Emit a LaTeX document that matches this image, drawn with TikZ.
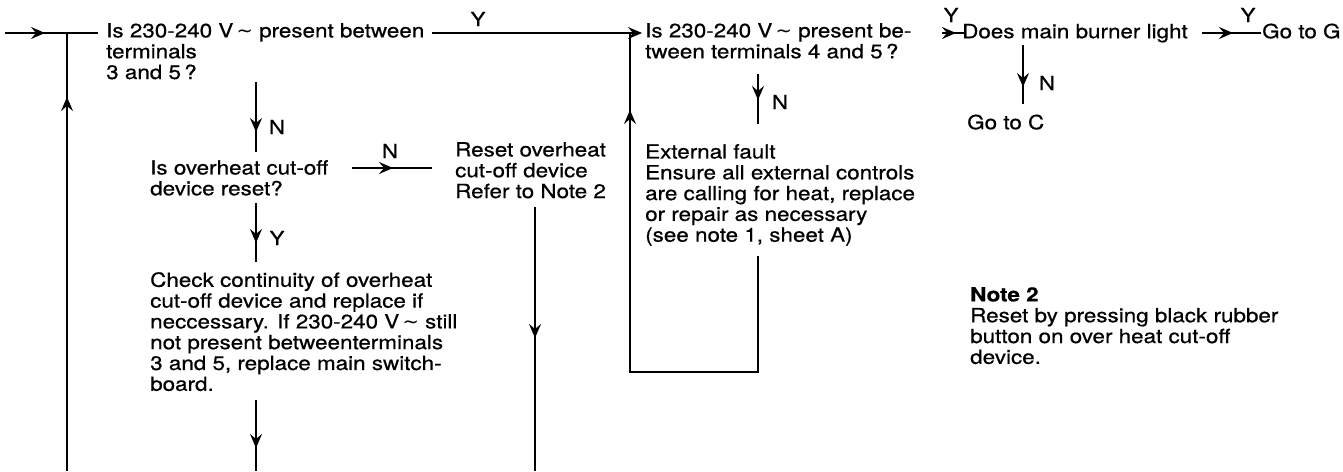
\documentclass[tikz,border=0pt]{standalone}
\usepackage{fontspec}
\setmainfont[FakeStretch=1.15,FakeBold=0.6]{TeX Gyre Heros}
\newfontfamily\symf{DejaVu Sans}
\usetikzlibrary{arrows.meta,decorations.markings}
\newcommand{\tld}{{\symf\char"223C}}
\tikzset{
  txt/.style={anchor=north west, inner sep=0pt, align=left,
    font=\fontsize{19.5}{20.8}\selectfont,
    execute at begin node={\rule{0pt}{15pt}}},
  lab/.style={inner sep=0pt, font=\fontsize{19.5}{20.8}\selectfont},
  wire/.style={line width=1.7pt},
  marr/.style={postaction={decorate},
    decoration={markings, mark=at position #1 with {\arrow{>}}}},
}
\begin{document}
\begin{tikzpicture}[x=1pt,y=-1pt,
  >={Stealth[length=14pt,width=12pt,inset=5pt]}]
\fill[white] (0,0) rectangle (1343,471);
\useasboundingbox (0,0) rectangle (1343,471);

% text blocks
\node[txt] (q1) at (106,23) {Is 230-240 V\,\tld\ present between\\terminals\\3 and 5\,?};
\node[txt] (q2) at (645,23) {Is 230-240 V\,\tld\ present be-\\tween terminals 4 and 5\,?};
\node[txt] (q3) at (962,23) {Does main burner light};
\node[txt] (gog) at (1262,23) {Go to G};
\node[txt] (goc) at (967,114) {Go to C};
\node[txt] (q4) at (150,160) {Is overheat cut-off\\device reset?};
\node[txt] (reset) at (455,142) {Reset overheat\\cut-off device\\Refer to Note 2};
\node[txt] (ext) at (645,144) {External fault\\Ensure all external controls\\are calling for heat, replace\\or repair as necessary\\(see note 1, sheet A)};
\node[txt] (chk) at (150,272) {Check continuity of overheat\\cut-off device and replace if\\neccessary. If 230-240 V\,\tld\ still\\not present betweenterminals\\3 and 5, replace main switch-\\board.};
\node[txt] (note) at (970,287) {\textbf{Note 2}\\Reset by pressing black rubber\\button on over heat cut-off\\device.};

% labels
\node[lab] (ly1) at (478,19) {Y};
\node[lab] (ln2) at (780,102) {N};
\node[lab] (ly3) at (951,15) {Y};
\node[lab] (ly4) at (1248,15) {Y};
\node[lab] (ln3) at (1047,83) {N};
\node[lab] (ln1) at (277,127) {N};
\node[lab] (ln4) at (390,151) {N};
\node[lab] (ly5) at (277,238) {Y};

% coordinates
\coordinate (in) at (5,33);
\coordinate (j1) at (67,33);
\coordinate (q1w) at (98,33);
\coordinate (bot1) at (67,471);
\coordinate (q1e) at (432,33);
\coordinate (j2) at (630,33);
\coordinate (q2w) at (642,33);
\coordinate (extb) at (758,256);
\coordinate (c1) at (758,372);
\coordinate (c2) at (630,372);
\coordinate (q2s) at (758,74);
\coordinate (extt) at (758,124);
\coordinate (q2e) at (942,33);
\coordinate (q3w) at (964,33);
\coordinate (q3e) at (1202,33);
\coordinate (gogw) at (1261,33);
\coordinate (q3s) at (1023,45);
\coordinate (goct) at (1023,104);
\coordinate (q1s) at (256,82);
\coordinate (q4t) at (256,152);
\coordinate (q4e) at (352,168);
\coordinate (resw) at (432,168);
\coordinate (q4s) at (256,203);
\coordinate (chkt) at (256,262);
\coordinate (chks) at (256,400);
\coordinate (bot2) at (256,471);
\coordinate (ress) at (535,207);
\coordinate (bot3) at (535,471);

% connectors
\draw[wire,marr=40pt] (in) -- (q1w);
\draw[wire,marr=374pt] (bot1) -- (j1);
\draw[wire,->] (q1e) -- (q2w);
\draw[wire,marr=506pt] (extb) -- (c1) -- (c2) -- (j2);
\draw[wire,marr=26pt] (q2s) -- (extt);
\draw[wire,marr=14pt] (q2e) -- (q3w);
\draw[wire,marr=31pt] (q3e) -- (gogw);
\draw[wire,marr=42pt] (q3s) -- (goct);
\draw[wire,marr=50pt] (q1s) -- (q4t);
\draw[wire,marr=41pt] (q4e) -- (resw);
\draw[wire,marr=40pt] (q4s) -- (chkt);
\draw[wire,marr=48pt] (chks) -- (bot2);
\draw[wire,marr=131pt] (ress) -- (bot3);
\end{tikzpicture}
\end{document}
